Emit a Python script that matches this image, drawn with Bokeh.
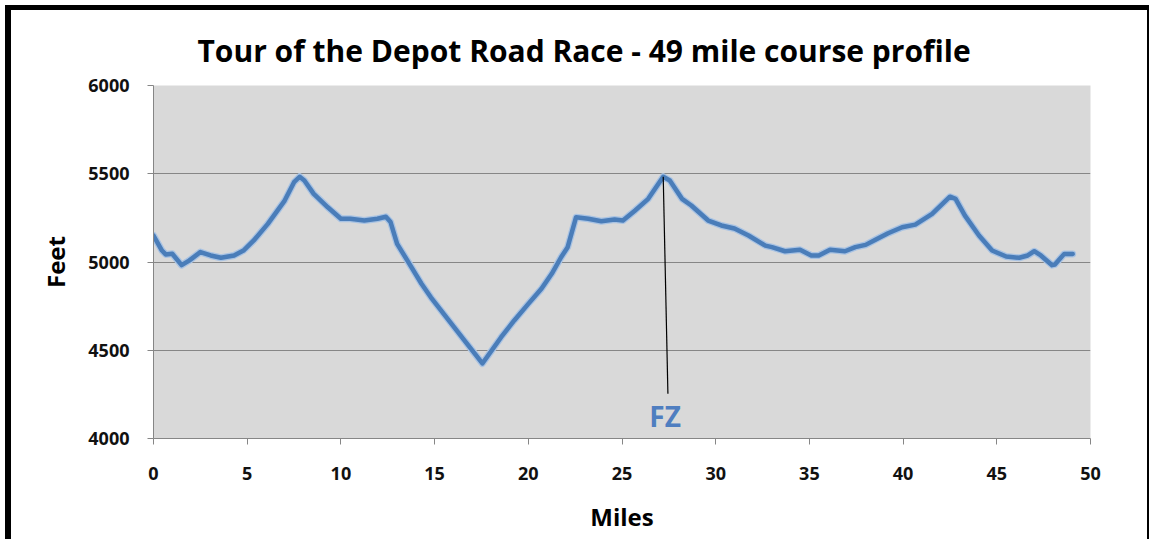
from bokeh.plotting import figure
from bokeh.models import FixedTicker, Title
from bokeh.core.properties import value
from bokeh.embed import file_html
from bokeh.resources import INLINE

# ---- data ----
miles = [0, 0.45, 0.65, 1.0, 1.5, 1.9, 2.5, 3.05, 3.6, 4.3, 4.8, 5.35, 6.1, 7.0, 7.5, 7.8,
         8.05, 8.55, 9.3, 10.0, 10.5, 11.25, 11.95, 12.4, 12.65, 13.0, 13.55, 14.3, 14.8,
         16.6, 17.55, 18.55, 19.25, 20.0, 20.7, 21.25, 21.75, 22.1, 22.55, 23.2, 23.9, 24.6,
         25.05, 25.7, 26.4, 27.2, 27.55, 28.2, 28.7, 29.6, 30.3, 31.0, 31.75, 32.65, 33.0,
         33.7, 34.5, 35.1, 35.5, 36.1, 36.9, 37.45, 38.0, 38.5, 39.2, 39.95, 40.65, 41.55,
         42.5, 42.8, 43.3, 44.05, 44.75, 45.5, 46.2, 46.65, 47.0, 47.35, 47.95, 48.1, 48.6, 49.05]
feet = [5150, 5065, 5043, 5047, 4982, 5008, 5056, 5037, 5024, 5037, 5065, 5122, 5216, 5348,
        5452, 5483, 5462, 5386, 5310, 5245, 5245, 5235, 5245, 5256, 5226, 5103, 5008, 4877,
        4800, 4555, 4425, 4574, 4669, 4763, 4848, 4933, 5027, 5084, 5254, 5245, 5231, 5241,
        5235, 5292, 5358, 5483, 5462, 5358, 5320, 5235, 5207, 5190, 5150, 5093, 5084, 5061,
        5069, 5037, 5037, 5069, 5061, 5084, 5097, 5125, 5163, 5197, 5212, 5273, 5370, 5358,
        5263, 5150, 5065, 5031, 5024, 5037, 5061, 5037, 4982, 4986, 5046, 5046]
x_ticks = [0, 5, 10, 15, 20, 25, 30, 35, 40, 45, 50]
y_ticks = [4000, 4500, 5000, 5500, 6000]

# FZ annotation (leader from summit down to the label)
fz_label = ["FZ"]
fz_line_x = [27.2, 27.45]
fz_line_y = [5483, 4253]
fz_text_x = [27.3]
fz_text_y = [4130]

title_text = "Tour of the Depot Road Race - 49 mile course profile"

FONT = "Open Sans"
GRAY = "#868686"

p = figure(width=1144, height=534, output_backend="svg", toolbar_location=None,
           x_range=(0, 50), y_range=(4000, 6000),
           min_border_left=142, min_border_right=65, min_border_top=75, min_border_bottom=106,
           background_fill_color="#D9D9D9", border_fill_color="white",
           outline_line_color=None)
p.styles = {"margin-left": "5px", "margin-top": "5px",
            "border-left": "6px solid black", "border-top": "5px solid black",
            "border-right": "2px solid black"}

p.title = Title(text=title_text, align="left", offset=44, text_font=FONT,
                text_font_size="30px", text_font_style="bold", text_color="black",
                standoff=30)

# axes
for ax in (p.xaxis[0], p.yaxis[0]):
    ax.axis_line_color = GRAY
    ax.major_tick_line_color = GRAY
    ax.minor_tick_line_color = None
    ax.major_tick_in = 0
    ax.major_tick_out = 6
    ax.major_label_text_font = FONT
    ax.major_label_text_font_style = "bold"
    ax.major_label_text_font_size = "18px"
    ax.major_label_text_color = "#111111"
    ax.axis_label_text_font = FONT
    ax.axis_label_text_font_style = "bold"
    ax.axis_label_text_font_size = "24px"
    ax.axis_label_text_color = "black"

p.xaxis.ticker = FixedTicker(ticks=x_ticks)
p.yaxis.ticker = FixedTicker(ticks=y_ticks)
p.xaxis.major_label_standoff = 22
p.yaxis.major_label_standoff = 18
p.xaxis.axis_label = "Miles"
p.yaxis.axis_label = "Feet"
p.xaxis.axis_label_standoff = 17
p.yaxis.axis_label_standoff = 13

p.xgrid.grid_line_color = None
p.ygrid.grid_line_color = GRAY
p.ygrid.grid_line_width = 1.2
p.ygrid.ticker = FixedTicker(ticks=y_ticks)

# elevation profile
p.line(miles, feet, line_color="#A9C3E3", line_width=7, line_join="round", line_cap="round")
p.line(miles, feet, line_color="#4A7DB9", line_width=4.5, line_join="round", line_cap="round")

# FZ leader line + label
p.line(fz_line_x, fz_line_y, line_color="black", line_width=1.2)
p.text(x=fz_text_x, y=fz_text_y, text=fz_label, text_font=value(FONT),
       text_font_style="bold", text_font_size="28px", text_color="#4F7EC0",
       text_align="center", text_baseline="middle")

open("out.html", "w").write(file_html(p, INLINE))
